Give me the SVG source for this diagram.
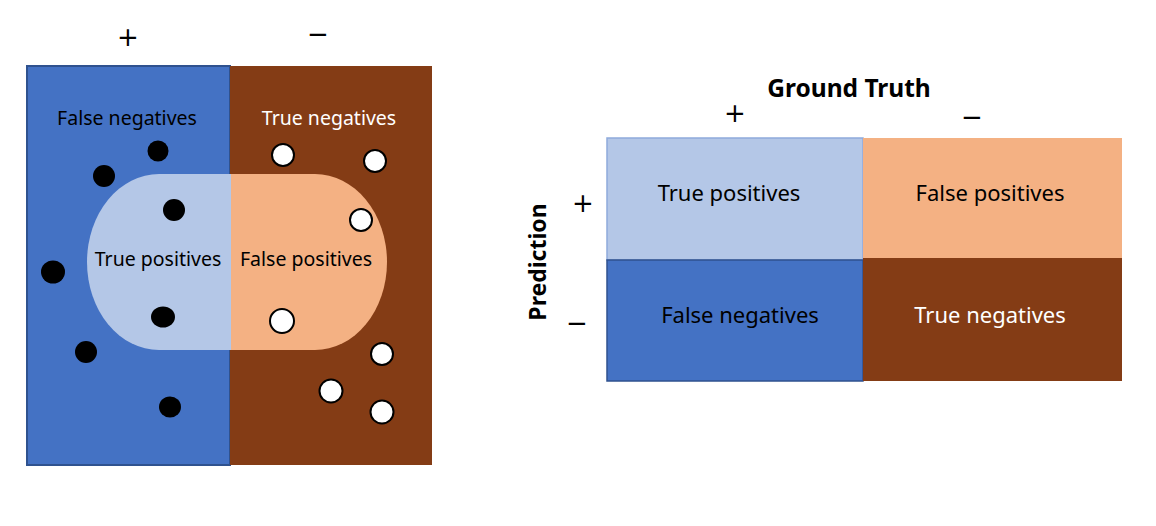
<svg xmlns="http://www.w3.org/2000/svg" width="1156" height="526" viewBox="0 0 1156 526">
<style>
.t{font-family:"Noto Sans","Open Sans","Liberation Sans",sans-serif;text-anchor:middle}
.s{font-size:19.5px}
.m{font-size:22px}
.b{font-size:23px;font-weight:bold}
.sym{font-family:"DejaVu Sans","Liberation Sans",sans-serif;font-size:26px;text-anchor:middle;fill:#000}
.k{fill:#000}
.w{fill:#fff}
.dot{fill:#000}
.ring{fill:#fff;stroke:#000;stroke-width:2}
</style>
<defs>
<clipPath id="pl"><rect x="87" y="174" width="144" height="176"/></clipPath>
<clipPath id="pr"><rect x="231" y="174" width="156" height="176"/></clipPath>
</defs>
<g id="left-panel">
<text class="sym" x="128" y="46">+</text>
<text class="sym" x="318" y="43">−</text>
<rect x="27" y="66" width="203" height="399" fill="#4472C4" stroke="#2F528F" stroke-width="2"/>
<rect x="230" y="66" width="202" height="399" fill="#843C15"/>
<rect x="87" y="174" width="300" height="176" rx="72" ry="88" fill="#B4C7E7" clip-path="url(#pl)"/>
<rect x="87" y="174" width="300" height="176" rx="72" ry="88" fill="#F4B183" clip-path="url(#pr)"/>
<text class="t s k" x="127" y="125">False negatives</text>
<text class="t s w" x="329" y="125">True negatives</text>
<text class="t s k" x="158" y="266">True positives</text>
<text class="t s k" x="306" y="266">False positives</text>
<ellipse class="dot" cx="158" cy="151" rx="10.5" ry="10.5"/>
<ellipse class="dot" cx="104" cy="176" rx="11" ry="11"/>
<ellipse class="dot" cx="174" cy="210" rx="11" ry="11"/>
<ellipse class="dot" cx="53" cy="272" rx="12" ry="11.5"/>
<ellipse class="dot" cx="163" cy="317" rx="12" ry="10.5"/>
<ellipse class="dot" cx="86" cy="352" rx="11" ry="11"/>
<ellipse class="dot" cx="170" cy="407" rx="11" ry="10.5"/>
<circle class="ring" cx="283" cy="155" r="11"/>
<circle class="ring" cx="375" cy="161" r="11"/>
<circle class="ring" cx="361" cy="220" r="11"/>
<circle class="ring" cx="282" cy="321" r="12"/>
<circle class="ring" cx="382" cy="354" r="11"/>
<circle class="ring" cx="331" cy="391" r="11.5"/>
<circle class="ring" cx="382" cy="412" r="11.5"/>
</g>
<g id="right-panel">
<text class="t b k" x="849" y="97" style="font-size:24.5px">Ground Truth</text>
<text class="sym" x="735" y="122">+</text>
<text class="sym" x="972" y="126">−</text>
<text class="t b k" transform="translate(546,262) rotate(-90)">Prediction</text>
<text class="sym" x="583" y="212">+</text>
<text class="sym" x="577" y="332">−</text>
</g>
<g id="cell-tp">
<rect x="607" y="138" width="256" height="122" fill="#B4C7E7" stroke="#8FAADC" stroke-width="1.5"/>
<text class="t m k" x="729" y="201">True positives</text>
</g>
<g id="cell-fp">
<rect x="863" y="138" width="259" height="120" fill="#F4B183"/>
<text class="t m k" x="990" y="201">False positives</text>
</g>
<g id="cell-fn">
<rect x="607" y="260" width="256" height="121" fill="#4472C4" stroke="#2F528F" stroke-width="1.5"/>
<text class="t m k" x="740" y="323">False negatives</text>
</g>
<g id="cell-tn">
<rect x="863" y="258" width="259" height="123" fill="#843C15"/>
<text class="t m w" x="990" y="323">True negatives</text>
</g>
<g id="connectors"/>
</svg>
